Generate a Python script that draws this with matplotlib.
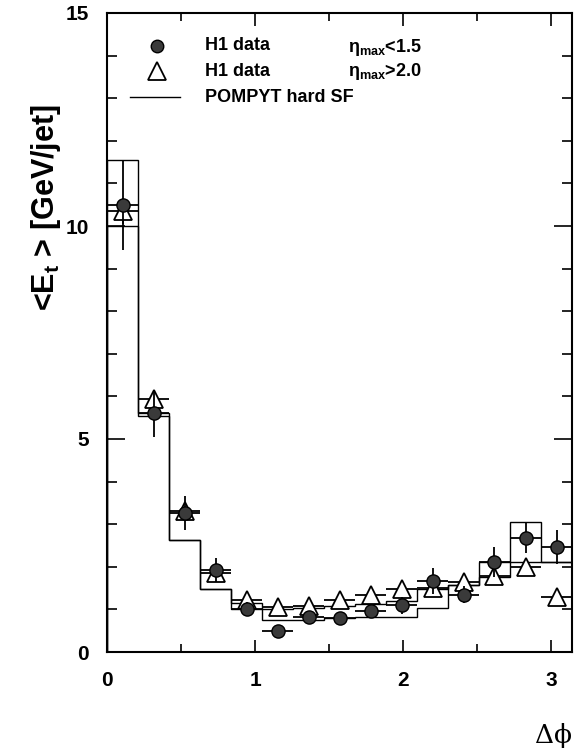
import numpy as np
import matplotlib
matplotlib.use("Agg")
import matplotlib.pyplot as plt
from matplotlib.ticker import MultipleLocator

plt.rcParams["mathtext.fontset"] = "custom"
plt.rcParams["mathtext.rm"] = "Liberation Sans:bold"
plt.rcParams["mathtext.it"] = "Liberation Sans:bold"
plt.rcParams["mathtext.bf"] = "Liberation Sans:bold"

# ---- data ----
n_bins = 15
bin_edges = np.linspace(0, np.pi, n_bins + 1)
bin_centers = 0.5 * (bin_edges[:-1] + bin_edges[1:])
half_width = 0.5 * (bin_edges[1] - bin_edges[0])

# H1 data, eta_max < 1.5 (filled circles)
circ_y = [10.49, 5.60, 3.26, 1.92, 1.02, 0.50, 0.83, 0.80, 0.96, 1.10, 1.67, 1.34, 2.12, 2.67, 2.47]
circ_err = [1.05, 0.55, 0.40, 0.28, 0.15, 0.06, 0.10, 0.10, 0.15, 0.20, 0.30, 0.20, 0.35, 0.35, 0.40]

# H1 data, eta_max > 2.0 (open triangles)
tri_y = [10.35, 5.95, 3.30, 1.85, 1.22, 1.06, 1.08, 1.22, 1.34, 1.49, 1.50, 1.65, 1.78, 2.00, 1.30]
tri_err = [0.30, 0.20, 0.15, 0.10, 0.08, 0.06, 0.06, 0.06, 0.08, 0.08, 0.10, 0.10, 0.12, 0.15, 0.15]

# POMPYT hard SF predictions (two step histograms)
mc_a = [11.55, 5.60, 2.63, 1.48, 1.15, 1.02, 1.04, 1.08, 1.12, 1.20, 1.48, 1.57, 2.12, 3.04, 2.12]
mc_b = [10.00, 5.55, 2.63, 1.48, 1.02, 0.75, 0.75, 0.80, 0.82, 0.83, 1.03, 1.57, 1.77, 2.12, 2.12]

x_ticks = [0, 1, 2, 3]
y_ticks = [0, 5, 10, 15]

# ---- figure ----
W, H = 574, 753
fig = plt.figure(figsize=(W / 100, H / 100), dpi=100)
ax = fig.add_axes([107 / W, 1 - 652 / H, (572 - 107) / W, (652 - 13) / H])

font = "Liberation Sans"

ax.stairs(mc_a, bin_edges, color="black", lw=1.0, zorder=2)
ax.stairs(mc_b, bin_edges, color="black", lw=1.0, zorder=2)

ax.errorbar(bin_centers, tri_y, yerr=tri_err, xerr=half_width, fmt="^",
            ms=12.5, mfc="white", mec="black", mew=1.3, ecolor="black",
            elinewidth=1.3, capsize=0, zorder=3)
ax.errorbar(bin_centers, circ_y, yerr=circ_err, xerr=half_width, fmt="o",
            ms=9.5, mfc="#3a3a3a", mec="black", mew=1.0, ecolor="black",
            elinewidth=1.3, capsize=0, zorder=4)

ax.set_xlim(0, np.pi)
ax.set_ylim(0, 15)
ax.set_xticks(x_ticks)
ax.set_yticks(y_ticks)
ax.xaxis.set_minor_locator(MultipleLocator(0.5))
ax.yaxis.set_minor_locator(MultipleLocator(1))
ax.tick_params(which="both", direction="in", top=True, right=True, width=1.2)
ax.tick_params(axis="x", which="major", length=9, pad=14)
ax.tick_params(axis="x", which="minor", length=6)
ax.tick_params(axis="y", which="major", length=13, pad=13)
ax.tick_params(axis="y", which="minor", length=7)
for lab in ax.get_xticklabels() + ax.get_yticklabels():
    lab.set_fontfamily(font)
    lab.set_fontweight("bold")
    lab.set_fontsize(15)
for sp in ax.spines.values():
    sp.set_linewidth(1.5)

# y label
fig.text(46 / W, 1 - 208 / H, r"<E$_{\mathregular{t}}$ > [GeV/jet]", rotation=90,
         ha="center", va="center", fontsize=22, family=font, fontweight="bold")
# x label
fig.text(553 / W, 1 - 735 / H, "Δϕ", ha="center", va="center",
         fontsize=19, family="DejaVu Serif")

# legend (manual)
fig.text(205 / W, 1 - 46 / H, "H1 data", ha="left", va="center", fontsize=13,
         family=font, fontweight="bold")
fig.text(205 / W, 1 - 71 / H, "H1 data", ha="left", va="center", fontsize=13,
         family=font, fontweight="bold")
fig.text(205 / W, 1 - 97 / H, "POMPYT hard SF", ha="left", va="center", fontsize=13,
         family=font, fontweight="bold")
fig.text(348 / W, 1 - 47 / H, r"η$_{\mathregular{max}}$<1.5", ha="left", va="center",
         fontsize=13, family=font, fontweight="bold")
fig.text(348 / W, 1 - 72 / H, r"η$_{\mathregular{max}}$>2.0", ha="left", va="center",
         fontsize=13, family=font, fontweight="bold")

leg_ax = fig.add_axes([0, 0, 1, 1], facecolor="none")
leg_ax.set_xlim(0, W)
leg_ax.set_ylim(H, 0)
leg_ax.axis("off")
leg_ax.plot([157], [46], "o", ms=9, mfc="#3a3a3a", mec="black", mew=1.0)
leg_ax.plot([157], [71], "^", ms=12.5, mfc="white", mec="black", mew=1.3)
leg_ax.plot([130, 180], [97, 97], color="black", lw=1.0)

fig.savefig("out.png", dpi=100)
